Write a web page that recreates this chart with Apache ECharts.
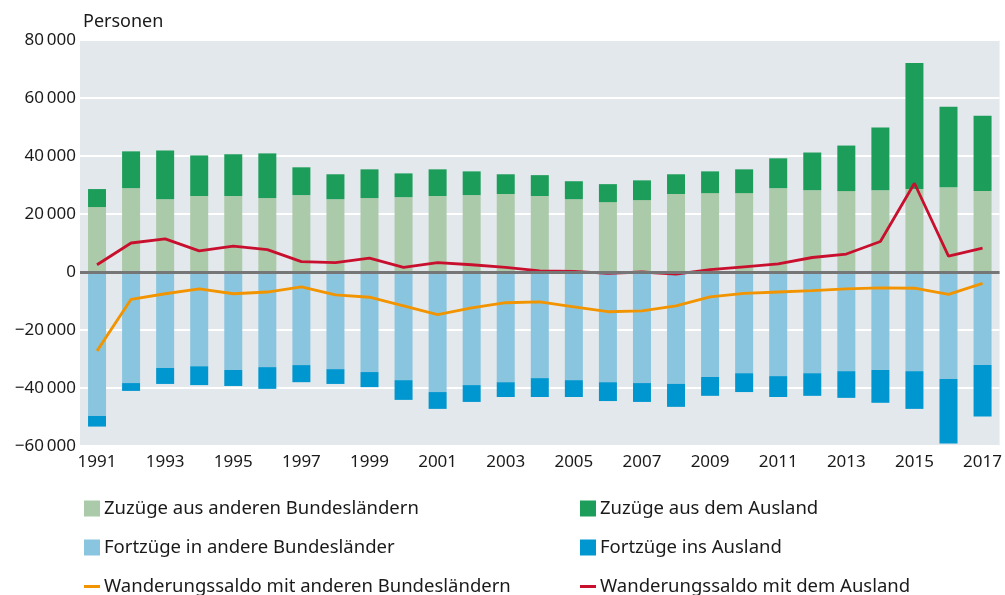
<!DOCTYPE html>
<html lang="de">
<head>
    <meta charset="UTF-8">
    <title>Wanderungen</title>
    <style>
        body{ margin:0; background:#fff; }
        #chart{ width:1005px; height:595px; }
    </style>
</head>
<body>
<div id="chart"></div>
<script src="https://cdn.jsdelivr.net/npm/echarts@6/dist/echarts.min.js"></script>
<script>
    // Jahre
    var jahre = ['1991','1992','1993','1994','1995','1996','1997','1998','1999','2000',
        '2001','2002','2003','2004','2005','2006','2007','2008','2009','2010',
        '2011','2012','2013','2014','2015','2016','2017'];

    // Zuzüge (Personen)
    var zuzuegeBL = [22400,28900,25100,26200,26200,25500,26500,25100,25500,25800,
        26200,26500,26900,26200,25100,24100,24800,26900,27200,27200,
        28900,28200,27900,28200,28600,29200,27900];
    var zuzuegeAusland = [6200,12700,16800,14000,14400,15400,9600,8600,9900,8200,
        9200,8200,6800,7200,6200,6200,6800,6800,7500,8200,
        10300,13000,15700,21600,43500,27800,26000];

    // Fortzüge (negativ)
    var fortzuegeBL = [-49600,-38300,-33100,-32500,-33800,-32800,-32100,-33500,-34500,-37300,
        -41400,-39000,-38000,-36600,-37300,-38000,-38300,-38600,-36200,-34900,
        -35900,-34900,-34200,-33800,-34200,-36900,-32100];
    var fortzuegeAusland = [-3700,-2700,-5500,-6500,-5500,-7500,-5900,-5100,-5200,-6800,
        -5800,-5800,-5100,-6500,-5800,-6500,-6500,-7900,-6500,-6500,
        -7200,-7800,-9200,-11300,-13000,-22200,-17700];

    // Salden
    var saldoBL = [-27200,-9400,-7500,-5800,-7500,-6900,-5100,-7900,-8700,-11700,
        -14700,-12400,-10600,-10300,-12000,-13700,-13400,-11700,-8600,-7400,
        -6900,-6400,-5800,-5500,-5600,-7700,-3900];
    var saldoAusland = [2500,10000,11400,7300,8900,7700,3600,3200,4800,1600,
        3200,2500,1600,400,200,-500,0,-700,800,1800,
        2800,5000,6200,10500,30600,5500,8200];

    var schrift = "'Source Sans Pro', 'Noto Sans', sans-serif";
    var strich = 'path://M0,0H16V3H0Z';

    function zahl(v) {
        var s = Math.abs(v).toString().replace(/\B(?=(\d{3})+(?!\d))/g, '\u2009');
        return (v < 0 ? '\u2212' : '') + s;
    }

    // eine Legende pro Eintrag, damit die Position stimmt
    function legende(name, links, oben, icon) {
        return {
            left: links, top: oben, padding: 0,
            itemWidth: 16, itemHeight: 16, itemGap: 4,
            textStyle: { fontFamily: schrift, fontSize: 18.5, color: '#1a1a1a', padding: [0, 0, 0, -1] },
            data: [icon ? { name: name, icon: icon } : { name: name, icon: 'rect' }]
        };
    }

    var myChart = echarts.init(document.getElementById('chart'));
    var option = {
        animation: false,
        textStyle: { fontFamily: schrift },
        title: {
            text: 'Personen',
            left: 83, top: 13, padding: 0,
            textStyle: { fontFamily: schrift, fontSize: 18, fontWeight: 'normal', color: '#1a1a1a' }
        },
        grid: {
            left: 80, right: 5, top: 40, bottom: 149,
            show: true, backgroundColor: '#e3e8ec', borderWidth: 0
        },
        legend: [
            legende('Zuzüge aus anderen Bundesländern', 84, 499),
            legende('Fortzüge in andere Bundesländer', 84, 538),
            legende('Wanderungssaldo mit anderen Bundesländern', 84, 577, strich),
            legende('Zuzüge aus dem Ausland', 580, 499),
            legende('Fortzüge ins Ausland', 580, 538),
            legende('Wanderungssaldo mit dem Ausland', 580, 577, strich)
        ],
        xAxis: {
            type: 'category',
            data: jahre,
            axisLine: { show: false },
            axisTick: { show: false },
            axisLabel: { interval: 1, margin: 8, fontSize: 17, color: '#1a1a1a', fontFamily: schrift }
        },
        yAxis: {
            type: 'value',
            min: -60000, max: 80000, interval: 20000,
            axisLine: { show: false },
            axisTick: { show: false },
            axisLabel: { margin: 4, fontSize: 17, color: '#1a1a1a', fontFamily: schrift, formatter: zahl },
            splitLine: { lineStyle: { color: '#ffffff', width: 2 } }
        },
        series: [{
            name: 'Zuzüge aus anderen Bundesländern',
            type: 'bar', stack: 'gesamt', barWidth: 18,
            itemStyle: { color: '#abcaa9' },
            data: zuzuegeBL
        }, {
            name: 'Zuzüge aus dem Ausland',
            type: 'bar', stack: 'gesamt', barWidth: 18,
            itemStyle: { color: '#1c9e5a' },
            data: zuzuegeAusland
        }, {
            name: 'Fortzüge in andere Bundesländer',
            type: 'bar', stack: 'gesamt', barWidth: 18,
            itemStyle: { color: '#89c5df' },
            data: fortzuegeBL
        }, {
            name: 'Fortzüge ins Ausland',
            type: 'bar', stack: 'gesamt', barWidth: 18,
            itemStyle: { color: '#0096cf' },
            data: fortzuegeAusland,
            markLine: {
                silent: true, symbol: 'none',
                label: { show: false },
                lineStyle: { color: '#767676', width: 3, type: 'solid' },
                data: [{ yAxis: 0 }]
            }
        }, {
            name: 'Wanderungssaldo mit anderen Bundesländern',
            type: 'line', symbol: 'none',
            lineStyle: { color: '#f29400', width: 2.8 },
            itemStyle: { color: '#f29400' },
            data: saldoBL
        }, {
            name: 'Wanderungssaldo mit dem Ausland',
            type: 'line', symbol: 'none',
            lineStyle: { color: '#c8102e', width: 2.8 },
            itemStyle: { color: '#c8102e' },
            data: saldoAusland
        }]
    };
    myChart.setOption(option);
</script>
</body>
</html>
